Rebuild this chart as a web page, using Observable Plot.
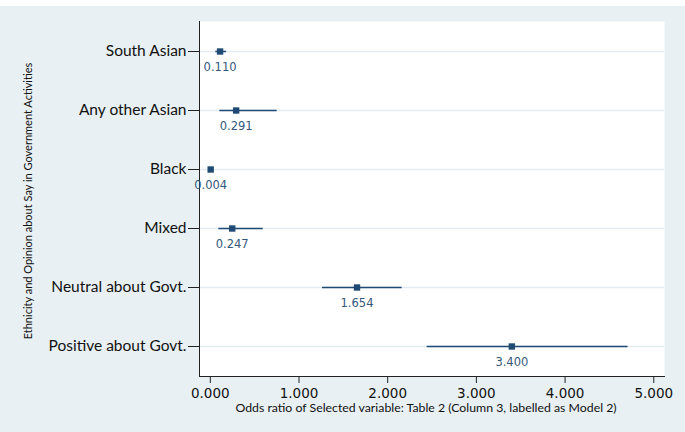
<!DOCTYPE html>
<html>
<head>
<meta charset="utf-8">
<script src="https://cdn.jsdelivr.net/npm/d3@7"></script>
<script src="https://cdn.jsdelivr.net/npm/@observablehq/plot@0.6"></script>
<style>
  html, body { margin: 0; padding: 0; background: #ffffff; }
  #chart svg { display: block; }
</style>
</head>
<body>
<div id="chart"></div>
<script>
const categories = ["South Asian", "Any other Asian", "Black", "Mixed", "Neutral about Govt.", "Positive about Govt."];
const oddsRatio = [0.110, 0.291, 0.004, 0.247, 1.654, 3.400];
const ciLow  = [0.062, 0.107, 0.000, 0.096, 1.265, 2.445];
const ciHigh = [0.183, 0.754, 0.012, 0.596, 2.163, 4.710];
const xTicks = [0, 1, 2, 3, 4, 5];
const xTitle = "Odds ratio of Selected variable: Table 2 (Column 3, labelled as Model 2)";
const yTitle = "Ethnicity and Opinion about Say in Government Activities";

const data = categories.map((c, i) => ({cat: c, or: oddsRatio[i], lo: ciLow[i], hi: ciHigh[i]}));

const navy = "#1f4a73";
const chart = Plot.plot({
  width: 685,
  height: 432,
  marginLeft: 199,
  marginRight: 21,
  marginTop: 21,
  marginBottom: 56,
  style: {
    background: "linear-gradient(#ffffff 6px, #e8f0f3 6px)",
    fontFamily: "Lato, sans-serif",
    color: "#111"
  },
  x: {domain: [-0.122, 5.121]},
  y: {type: "point", domain: categories, padding: 0.5},
  marks: [
    Plot.frame({fill: "white", stroke: null}),
    Plot.gridY({stroke: "#e2ebef", strokeOpacity: 1, strokeWidth: 1.5}),
    Plot.axisY({tickSize: 11, tickPadding: 2, fontSize: 15.5, fontFamily: "Lato, sans-serif", label: null, stroke: "#222"}),
    Plot.axisX({ticks: xTicks, tickFormat: d => d.toFixed(3), tickSize: 7, tickPadding: 5, fontSize: 13.5, fontFamily: "DejaVu Sans, sans-serif", label: null, stroke: "#222"}),
    Plot.frame({anchor: "left", stroke: "#222"}),
    Plot.frame({anchor: "bottom", stroke: "#222"}),
    Plot.ruleY(data, {y: "cat", x1: "lo", x2: "hi", stroke: navy, strokeWidth: 1.5}),
    Plot.ruleX(data, {x: "lo", y: "cat", insetTop: -4, insetBottom: -4, stroke: navy, strokeWidth: 1.5}),
    Plot.ruleX(data, {x: "hi", y: "cat", insetTop: -4, insetBottom: -4, stroke: navy, strokeWidth: 1.5}),
    Plot.dot(data, {x: "or", y: "cat", symbol: "square", r: 3.6, fill: navy, stroke: null}),
    Plot.text(data, {x: "or", y: "cat", text: d => d.or.toFixed(3), dy: 16, fill: "#34597c", fontSize: 11.5, fontFamily: "DejaVu Sans, sans-serif"}),
    Plot.text([xTitle], {text: d => d, frameAnchor: "bottom", dy: 35, dx: -6, fontSize: 12.3, fill: "#111", fontFamily: "Lato, sans-serif"}),
    Plot.text([yTitle], {text: d => d, frameAnchor: "left", textAnchor: "middle", rotate: -90, dx: -171, dy: 2, fontSize: 11, fill: "#111", fontFamily: "Lato, sans-serif"})
  ]
});
document.getElementById("chart").append(chart);
</script>
</body>
</html>
